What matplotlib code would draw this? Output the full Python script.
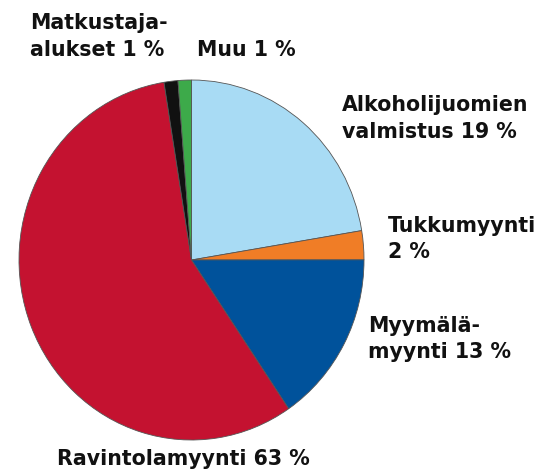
import matplotlib
matplotlib.use("Agg")
import matplotlib.pyplot as plt

# slice shares as drawn (clockwise from 12 o'clock) and printed labels
categories = ["Alkoholijuomien\nvalmistus", "Tukkumyynti", "Myymälä-\nmyynti",
              "Ravintolamyynti", "Matkustaja-\nalukset", "Muu"]
printed_pct = [19, 2, 13, 63, 1, 1]
drawn_share = [22.4, 2.6, 15.5, 57.0, 1.3, 1.25]
colors = ["#a8dbf4", "#f07d26", "#00529b", "#c41230", "#111111", "#3daa4a"]

W, H = 540, 470
fig = plt.figure(figsize=(W / 100, H / 100), dpi=100)

# pie box in pixels: left, top, width, height
px_left, px_top, px_w, px_h = 19, 80, 345, 360
ax = fig.add_axes([px_left / W, 1 - (px_top + px_h) / H, px_w / W, px_h / H])
ax.pie(drawn_share, colors=colors, startangle=90, counterclock=False,
       wedgeprops=dict(edgecolor="#555555", linewidth=0.6))
ax.set_xlim(-1.0, 1.0)
ax.set_ylim(-1.0, 1.0)
ax.set_aspect("auto")
ax.axis("off")

# label anchors: left x and first-line baseline y, in pixels
label_pos = [(342, 111), (388, 232), (368, 332), (57, 465), (30, 29), (197, 56)]
line_gap = 26.5

for cat, pct, (x, y) in zip(categories, printed_pct, label_pos):
    if cat == "Tukkumyynti":
        lines = [cat, f"{pct} %"]
    else:
        lines = cat.split("\n")
        lines[-1] = lines[-1] + f" {pct} %"
    for i, line in enumerate(lines):
        fig.text(x / W, 1 - (y + i * line_gap) / H, line, ha="left",
                 va="baseline", fontsize=14.8, fontweight="bold",
                 color="#111111", family="DejaVu Sans")

fig.savefig("out.png", dpi=100)
